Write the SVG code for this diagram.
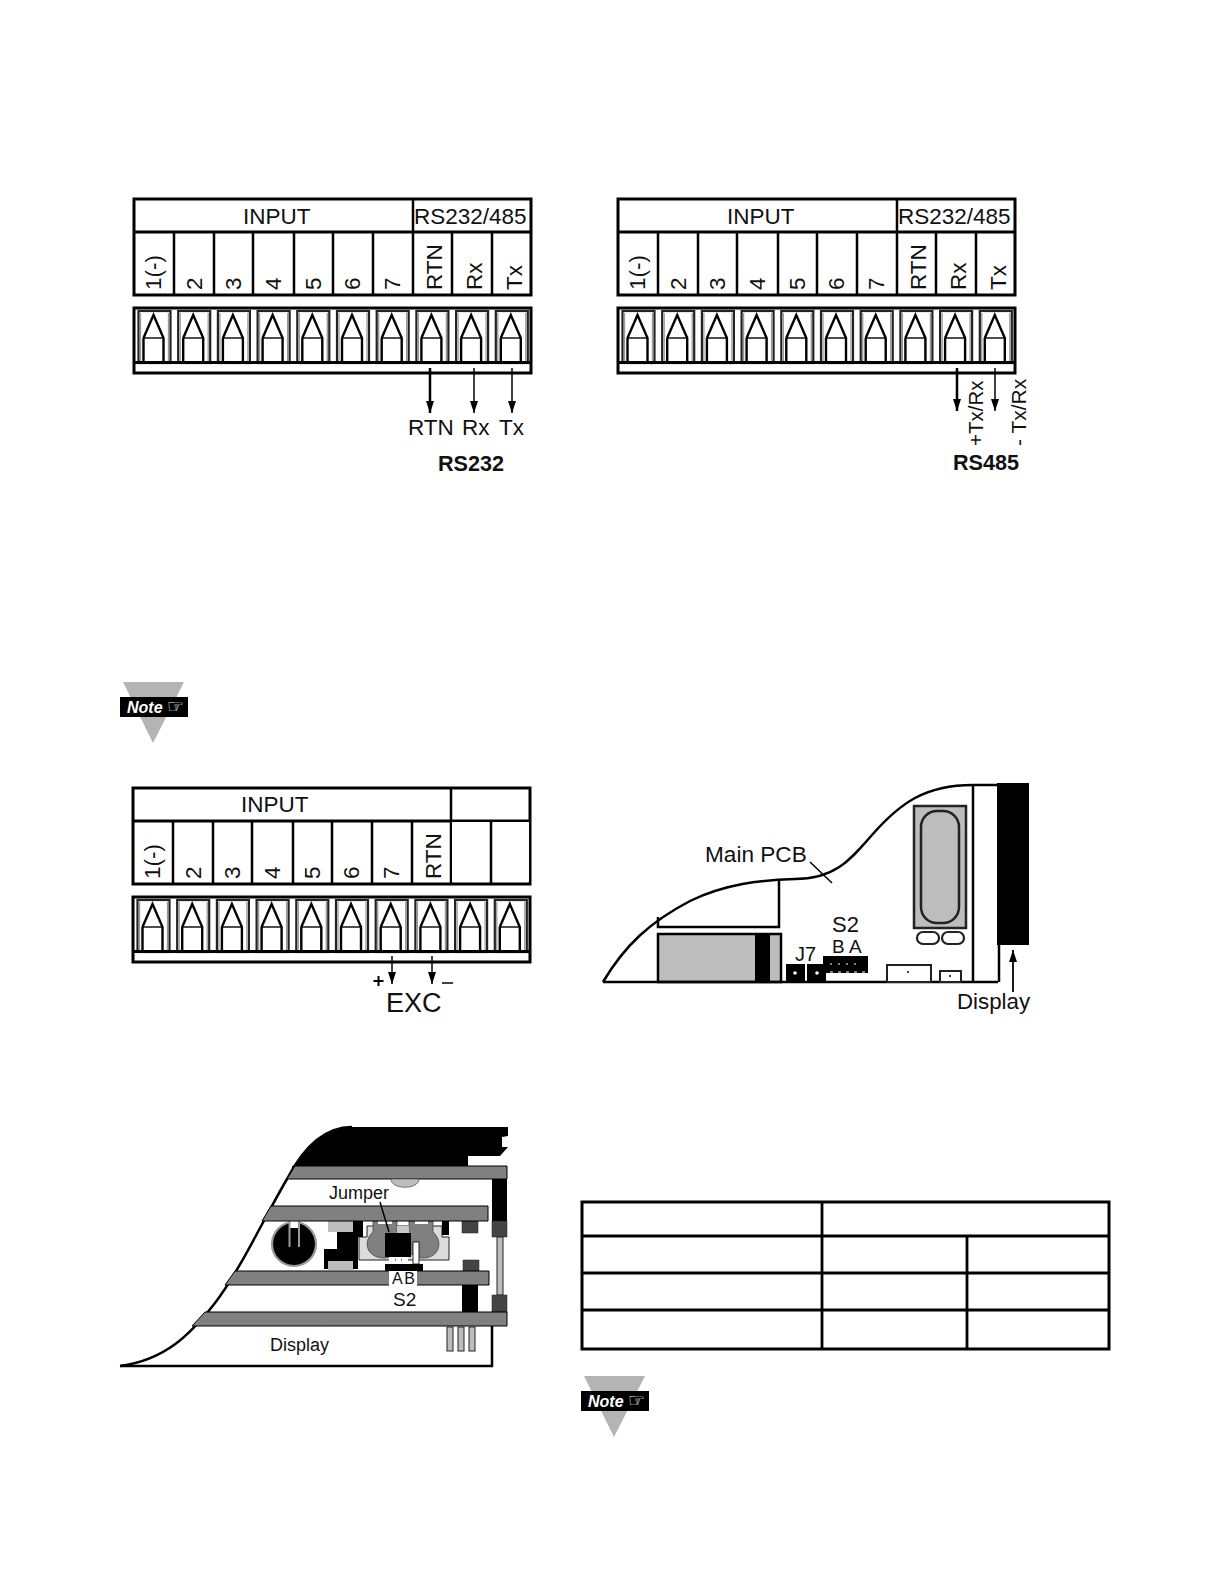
<svg xmlns="http://www.w3.org/2000/svg" width="1224" height="1584" viewBox="0 0 1224 1584">
<style>
text{font-family:"Liberation Sans",Arial,sans-serif;fill:#111}
.h{font-size:22.5px}.c{font-size:22.5px}.b{font-size:21.6px;font-weight:bold}
.s{font-size:18px}
.l{fill:none;stroke:#000;stroke-width:2.5}
.o{fill:none;stroke:#000;stroke-width:3}
.n{font-size:16px;font-weight:bold;font-style:italic;fill:#fff}
.band{fill:#808080;stroke:#000;stroke-width:1}
.lg{fill:#bdbdbd}.dk{fill:#444;stroke:#222;stroke-width:.5}
.wire{fill:none;stroke:#000}
</style>
<defs>
<g id="term">
<rect x="0.5" y="1" width="32" height="52" fill="#fff" stroke="#222" stroke-width="2.2"/>
<path d="M2.5 3V53M30.5 3V53" stroke="#999" stroke-width="1.3"/>
<path d="M5.5 28L15.5 5L25.5 28V53M5.5 28V53" fill="none" stroke="#000" stroke-width="2.4"/>
<path d="M5.5 28H25.5" stroke="#000" stroke-width="1.4"/>
</g>
<marker id="ah" viewBox="0 0 12 8" refX="12" refY="4" markerWidth="12" markerHeight="8" markerUnits="userSpaceOnUse" orient="auto"><path d="M0 0L12 4L0 8Z" fill="#000"/></marker>
<g id="terms">
<use href="#term" x="0"/><use href="#term" x="39.7"/><use href="#term" x="79.4"/><use href="#term" x="119.1"/><use href="#term" x="158.8"/><use href="#term" x="198.5"/><use href="#term" x="238.2"/><use href="#term" x="277.9"/><use href="#term" x="317.6"/><use href="#term" x="357.3"/>
</g>
<g id="labels">
<text class="c" transform="translate(161 290) rotate(-90)">1(-)</text>
<text class="c" transform="translate(202 290) rotate(-90)">2</text>
<text class="c" transform="translate(241 290) rotate(-90)">3</text>
<text class="c" transform="translate(281 290) rotate(-90)">4</text>
<text class="c" transform="translate(321 290) rotate(-90)">5</text>
<text class="c" transform="translate(360 290) rotate(-90)">6</text>
<text class="c" transform="translate(400 290) rotate(-90)">7</text>
<text class="c" transform="translate(442 290) rotate(-90)">RTN</text>
</g>
<g id="rows">
<path class="o" d="M134 199H531V295H134ZM134 232H531M134 308H531V373H134ZM134 362.5H531"/>
<path class="l" d="M174 232V295M214 232V295M253 232V295M294 232V295M333 232V295M373 232V295M413 232V295M452 232V295M492 232V295"/>
</g>
<g id="note">
<path d="M0 0H61L30 61Z" fill="#b4b4b4"/>
<rect x="-3" y="15" width="68" height="20" fill="#000"/>
<text class="n" x="4" y="31">Note</text>
<text x="44" y="31" font-size="19" style="font-family:'DejaVu Sans',sans-serif;fill:#fff">☞</text>
</g>
</defs>
<rect width="1224" height="1584" fill="#fff"/>

<g id="rs232-terminal">
<use href="#terms" x="138" y="310"/>
<use href="#rows"/>
<path class="l" d="M413 199V232"/>
<text class="h" x="243" y="224">INPUT</text>
<text class="h" x="414" y="224">RS232/485</text>
<use href="#labels"/>
<text class="c" transform="translate(482 290) rotate(-90)">Rx</text>
<text class="c" transform="translate(522 290) rotate(-90)">Tx</text>
<text class="c" x="408" y="435">RTN</text>
<text class="c" x="462" y="435">Rx</text>
<text class="c" x="499" y="435">Tx</text>
<text class="b" x="438" y="471">RS232</text>
</g>

<g id="rs485-terminal">
<g transform="translate(484 0)">
<use href="#terms" x="138" y="310"/>
<use href="#rows"/>
<path class="l" d="M413 199V232"/>
<text class="h" x="243" y="224">INPUT</text>
<text class="h" x="414" y="224">RS232/485</text>
<use href="#labels"/>
<text class="c" transform="translate(482 290) rotate(-90)">Rx</text>
<text class="c" transform="translate(522 290) rotate(-90)">Tx</text>
</g>
<text font-size="20.5" transform="translate(983 446) rotate(-90)">+Tx/Rx</text>
<text font-size="21" transform="translate(1026 446) rotate(-90)">- Tx/Rx</text>
<text class="b" x="953" y="470">RS485</text>
</g>

<g id="note-1"><use href="#note" x="123" y="682"/></g>

<g id="exc-terminal">
<g transform="translate(-1 589)">
<use href="#terms" x="138" y="310"/>
<use href="#rows"/>
</g>
<path fill="#fff" d="M452 822H529V882H452Z"/>
<path class="l" d="M451 787V820M491 820V884"/>
<text class="h" x="241" y="812">INPUT</text>
<g transform="translate(-1 589)"><use href="#labels"/></g>
<path fill="#000" d="M373.5 980h10v2h-10zM377.5 976h2v10h-2z"/>
<path d="M442 983H453" stroke="#000" stroke-width="1.5"/>
<text font-size="27" x="386" y="1012">EXC</text>
</g>

<g id="main-pcb">
<path class="lg" d="M658 934H781V982H658Z" stroke="#000" stroke-width="2.5"/>
<rect x="755" y="934" width="15" height="48" fill="#000"/>
<path class="l" d="M603 982C625 945 650 922 690 901C725 884 760 880 795 879C835 879 850 860 872 835C900 803 925 785 973 785H997"/>
<path class="l" d="M603 982H998M973 785V982M658 917V927H779V879"/>
<rect x="997" y="783" width="32" height="162" fill="#000"/>
<path class="l" d="M999 945V982"/>
<rect x="914" y="806" width="52" height="122" class="lg" stroke="#222" stroke-width="2.5"/>
<rect x="921" y="811" width="38" height="112" rx="16" class="lg" stroke="#222" stroke-width="2.5"/>
<rect x="917" y="932" width="22" height="12" rx="6" fill="#fff" stroke="#222" stroke-width="2.2"/>
<rect x="942" y="932" width="22" height="12" rx="6" fill="#fff" stroke="#222" stroke-width="2.2"/>
<path d="M810 862L832 883" stroke="#000" stroke-width="1.5"/>
<rect x="786" y="964" width="19" height="18" fill="#000"/><circle cx="795" cy="973" r="1.8" fill="#fff"/>
<rect x="807" y="964" width="19" height="18" fill="#000"/><circle cx="817" cy="973" r="1.8" fill="#fff"/>
<rect x="823" y="956" width="45" height="17" fill="#000"/>
<path d="M830 964h2M838 964h2M846 964h2M854 964h2M830 972h3M838 972h3M846 972h3M854 972h3M862 972h3" stroke="#fff" stroke-width="1.2"/>
<rect x="887" y="965" width="44" height="17" fill="#fff" stroke="#222" stroke-width="2"/><circle cx="908" cy="972" r="1" fill="#000"/>
<rect x="940" y="971" width="21" height="11" fill="#fff" stroke="#222" stroke-width="2"/><circle cx="950" cy="976" r="1" fill="#000"/>
<text font-size="22.6" x="705" y="862">Main PCB</text>
<text font-size="22" x="832" y="932">S2</text>
<text font-size="19" x="832" y="953">B A</text>
<text font-size="20" x="795" y="961">J7</text>
<text font-size="22.3" x="957" y="1009">Display</text>
</g>

<g id="jumper-detail">
<path class="l" d="M120 1366C165 1360 190 1335 215 1303C240 1270 262 1222 287 1179C302 1150 322 1127 352 1127"/>
<path d="M292 1170C304 1148 325 1127 352 1127H508V1136L502 1137V1147H508L500 1156H468V1166H292Z" fill="#000"/>
<path class="band" d="M295 1166H507V1179H287Z"/>
<path d="M391 1179H419C419 1190 391 1190 391 1179Z" class="lg" stroke="#555" stroke-width=".8"/>
<rect x="492" y="1179" width="15" height="42" fill="#000"/>
<rect x="492" y="1221" width="15" height="16" class="dk"/>
<rect x="497" y="1237" width="6" height="58" class="lg" stroke="#222"/>
<rect x="492" y="1295" width="15" height="17" class="dk"/>
<rect x="462" y="1221" width="16" height="12" class="dk"/>
<rect x="463" y="1260" width="16" height="11" class="dk"/>
<rect x="462" y="1285" width="16" height="27" fill="#000"/>
<path d="M359 1260H449V1237H442V1226H367V1237H359Z" fill="#dcdcdc" stroke="#222" stroke-width="1"/>
<path d="M373 1221H397V1232C405 1242 400 1258 384 1258C367 1258 362 1242 373 1232Z" fill="#808080" stroke="#444" stroke-width=".8"/>
<path d="M409 1221H433V1232C444 1242 439 1258 423 1258C407 1258 402 1242 409 1232Z" fill="#808080" stroke="#444" stroke-width=".8"/>
<rect x="397" y="1226" width="12" height="8" fill="#c8c8c8"/>
<rect x="378" y="1221" width="14" height="3" fill="#fff"/><rect x="415" y="1221" width="13" height="3" fill="#fff"/>
<rect x="442" y="1220" width="7" height="15" fill="#000"/>
<path d="M353 1221H363V1237H358V1269H324V1249H337V1232H353Z" fill="#000"/>
<rect x="328" y="1221" width="25" height="11" class="lg"/>
<rect x="328" y="1261" width="25" height="9" class="lg"/>
<circle cx="294" cy="1244" r="22" fill="#000" stroke="#999" stroke-width="2.2"/>
<rect x="290" y="1221" width="9" height="7" fill="#fff"/>
<path d="M289.5 1221V1247M299 1221V1247" stroke="#999" stroke-width="2"/>
<rect x="389" y="1257" width="6" height="8" fill="#fff"/><rect x="396" y="1257" width="5" height="8" fill="#fff"/><rect x="402" y="1257" width="6" height="8" fill="#fff"/>
<rect x="385" y="1233" width="26" height="24" fill="#000"/>
<rect x="413" y="1242" width="6" height="22" fill="#fff" stroke="#000" stroke-width=".8"/>
<rect x="385" y="1264" width="38" height="7" fill="#000"/>
<path class="band" d="M271 1206H488V1221H262Z"/>
<path class="band" d="M235 1271H489V1285H225Z"/>
<path class="band" d="M205 1312H507V1326H192Z"/>
<path d="M380 1202L389 1232" stroke="#000" stroke-width="1.5"/>
<rect x="389" y="1271" width="28" height="16" fill="#fff"/>
<text font-size="16" x="392" y="1284" word-spacing="-2">A B</text>
<text font-size="19" x="393" y="1306">S2</text>
<text class="s" x="329" y="1199">Jumper</text>
<text class="s" x="270" y="1351">Display</text>
<path class="l" d="M120 1366H492V1326"/>
<rect x="447" y="1327" width="6" height="24" class="lg" stroke="#222"/>
<rect x="458" y="1327" width="6" height="24" class="lg" stroke="#222"/>
<rect x="469" y="1327" width="6" height="24" class="lg" stroke="#222"/>
</g>

<g id="jumper-table">
<path d="M582 1202H1109V1349H582Z" fill="none" stroke="#000" stroke-width="3"/>
<path d="M582 1236H1109M582 1273H1109M582 1310H1109M822 1202V1349M967 1236V1349" fill="none" stroke="#000" stroke-width="2.8"/>
</g>

<g id="note-2"><use href="#note" x="584" y="1376"/></g>

<g id="connectors">
<path class="wire" stroke-width="2.5" d="M430 368V413" marker-end="url(#ah)"/>
<path class="wire" stroke-width="1.5" d="M474 368V413" marker-end="url(#ah)"/>
<path class="wire" stroke-width="1.5" d="M512 368V413" marker-end="url(#ah)"/>
<path class="wire" stroke-width="2.5" d="M957 368V411" marker-end="url(#ah)"/>
<path class="wire" stroke-width="1.5" d="M995 368V411" marker-end="url(#ah)"/>
<path class="wire" stroke-width="1.5" d="M392 956V984" marker-end="url(#ah)"/>
<path class="wire" stroke-width="1.5" d="M432 956V984" marker-end="url(#ah)"/>
<path class="wire" stroke-width="1.8" d="M1013 992V950" marker-end="url(#ah)"/>
</g>
</svg>
